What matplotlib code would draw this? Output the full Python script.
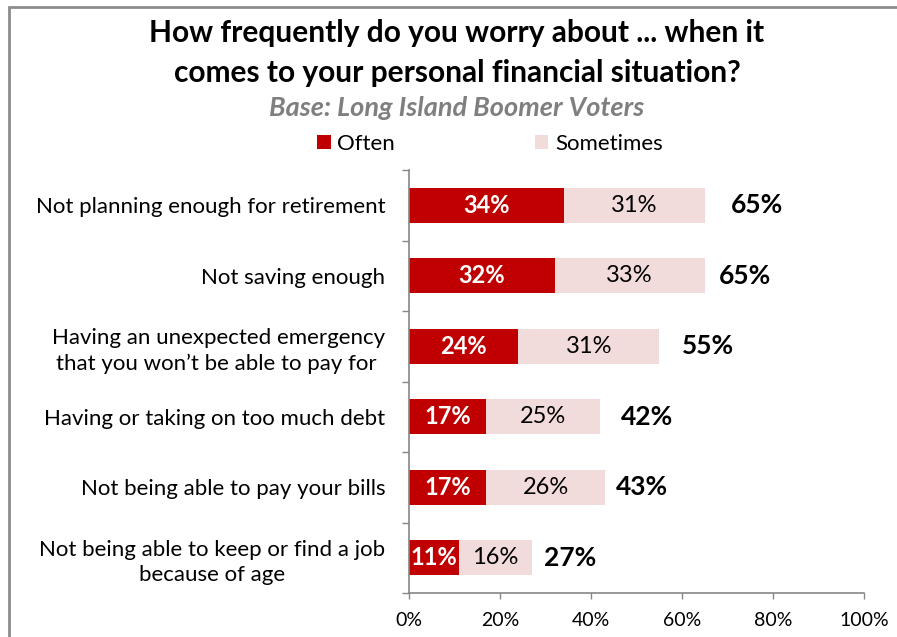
import numpy as np
import matplotlib.pyplot as plt
from matplotlib.patches import Rectangle

plt.rcParams['font.family'] = ['Lato', 'DejaVu Sans']

# survey results, top row first
categories = [
    'Not planning enough for retirement',
    'Not saving enough',
    'Having an unexpected emergency\nthat you won\u2019t be able to pay for ',
    'Having or taking on too much debt',
    'Not being able to pay your bills',
    'Not being able to keep or find a job\nbecause of age',
]
often = [34, 32, 24, 17, 17, 11]
sometimes = [31, 33, 31, 25, 26, 16]
totals = [65, 65, 55, 42, 43, 27]
x_ticks = [0, 20, 40, 60, 80, 100]
x_tick_labels = ['0%', '20%', '40%', '60%', '80%', '100%']

# gap (points) between bar end and the total label
total_gap = [19, 10, 16, 15, 8, 9]

RED = '#C00000'
PINK = '#F2DCDB'
AXIS_GRAY = '#868686'

fig = plt.figure(figsize=(8.97, 6.37), dpi=100)
ax = fig.add_axes([409 / 897, 1 - 593 / 637, (864 - 409) / 897, (593 - 170) / 637])

y = np.arange(len(categories))
ax.barh(y, often, height=0.5, color=RED, label='Often')
ax.barh(y, sometimes, left=often, height=0.5, color=PINK, label='Sometimes')

for i in range(len(categories)):
    ax.text(often[i] / 2, y[i], f'{often[i]}%', ha='center', va='center',
            color='white', fontsize=17, fontweight='bold')
    ax.text(often[i] + sometimes[i] / 2, y[i], f'{sometimes[i]}%', ha='center',
            va='center', color='black', fontsize=17)
    ax.annotate(f'{totals[i]}%', xy=(often[i] + sometimes[i], y[i]),
                xytext=(total_gap[i], 0), textcoords='offset points',
                ha='left', va='center', fontsize=19, fontweight='bold')

ax.set_xlim(0, 100)
ax.set_ylim(len(categories) - 0.5, -0.5)
ax.set_xticks(x_ticks)
ax.set_xticklabels(x_tick_labels, fontsize=14)
ax.set_yticks(y)
ax.set_yticklabels(categories, fontsize=16, multialignment='center', linespacing=1.35)
ax.set_yticks(np.arange(-0.5, len(categories), 1), minor=True)
ax.tick_params(axis='y', which='major', length=0, pad=17)
ax.tick_params(axis='y', which='minor', length=5, width=1, color=AXIS_GRAY)
ax.tick_params(axis='x', length=4, width=1, color=AXIS_GRAY, pad=10)

for side in ['top', 'right']:
    ax.spines[side].set_visible(False)
for side in ['left', 'bottom']:
    ax.spines[side].set_color(AXIS_GRAY)
    ax.spines[side].set_linewidth(1.2)

fig.text(457 / 897, 1 - 53 / 637,
         'How frequently do you worry about ... when it\ncomes to your personal financial situation?',
         ha='center', va='center', fontsize=21.5, fontweight='bold', linespacing=1.5)
fig.text(457 / 897, 1 - 108 / 637, 'Base: Long Island Boomer Voters', ha='center',
         va='center', fontsize=19.5, fontweight='bold', fontstyle='italic', color='#7F7F7F')

fig.legend(loc='center', bbox_to_anchor=(490 / 897, 1 - 144 / 637), ncol=2,
           frameon=False, fontsize=16, handlelength=0.6, handleheight=0.6,
           handletextpad=0.3, columnspacing=6.3)

# chart frame running off the page edge
fig.patches.append(Rectangle((9 / 897, -0.1), 1.2, 1 - 7 / 637 + 0.1,
                             transform=fig.transFigure, fill=False,
                             edgecolor='#8C8C8C', linewidth=2))

fig.savefig('out.png', dpi=100)
